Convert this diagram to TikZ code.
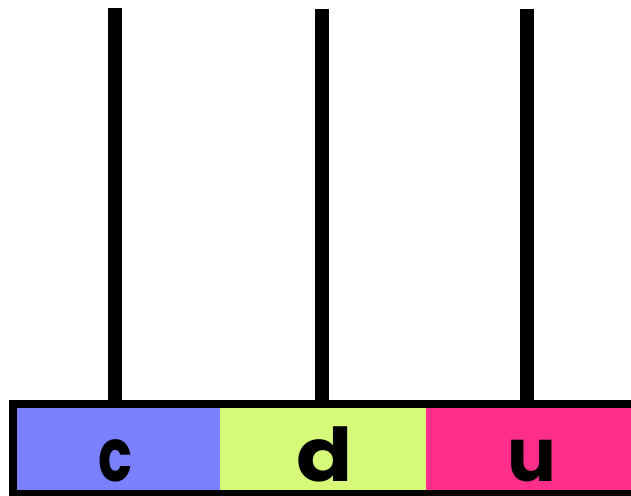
\documentclass[tikz,border=0pt]{standalone}
\usepackage{fontspec}
\usepackage{graphicx}
\newfontfamily\lblfont{Poppins}
\definecolor{cblue}{RGB}{123,128,255}
\definecolor{clime}{RGB}{214,249,122}
\definecolor{cpink}{RGB}{255,46,138}
\tikzset{
  sect/.style={rectangle, inner sep=0pt, outer sep=0pt, minimum height=82pt},
  frame/.style={rectangle, draw=black, line width=8pt, inner sep=0pt, minimum width=622pt, minimum height=90pt},
  bar/.style={line width=13.5pt, black},
  lbl/.style={anchor=base, inner sep=0pt, font=\lblfont\bfseries\fontsize{74}{74}\selectfont}
}
\newcommand{\wid}[2]{\scalebox{#1}[1]{#2}}
\begin{document}
\begin{tikzpicture}[x=1pt,y=1pt]
\useasboundingbox (0,0) rectangle (631,495);
\node[sect, fill=cblue, minimum width=203pt] (sc) at (118.5,46) {};
\node[sect, fill=clime, minimum width=207pt] (sd) at (323.5,46) {};
\node[sect, fill=cpink, minimum width=205pt] (su) at (528.5,46) {};
\node[frame] (fr) at (323.5,46) {};
\node[lbl] (lc) at (116,14) {\wid{0.76}{c}};
\node[lbl] (ld) at (325,14) {\wid{1.12}{d}};
\node[lbl] (lu) at (532,14) {\wid{0.98}{u}};
\coordinate (t1) at (115,487);
\coordinate (t2) at (322,486);
\coordinate (t3) at (527,486);
\draw[bar] (t1) -- (t1 |- fr.north);
\draw[bar] (t2) -- (t2 |- fr.north);
\draw[bar] (t3) -- (t3 |- fr.north);
\end{tikzpicture}
\end{document}
